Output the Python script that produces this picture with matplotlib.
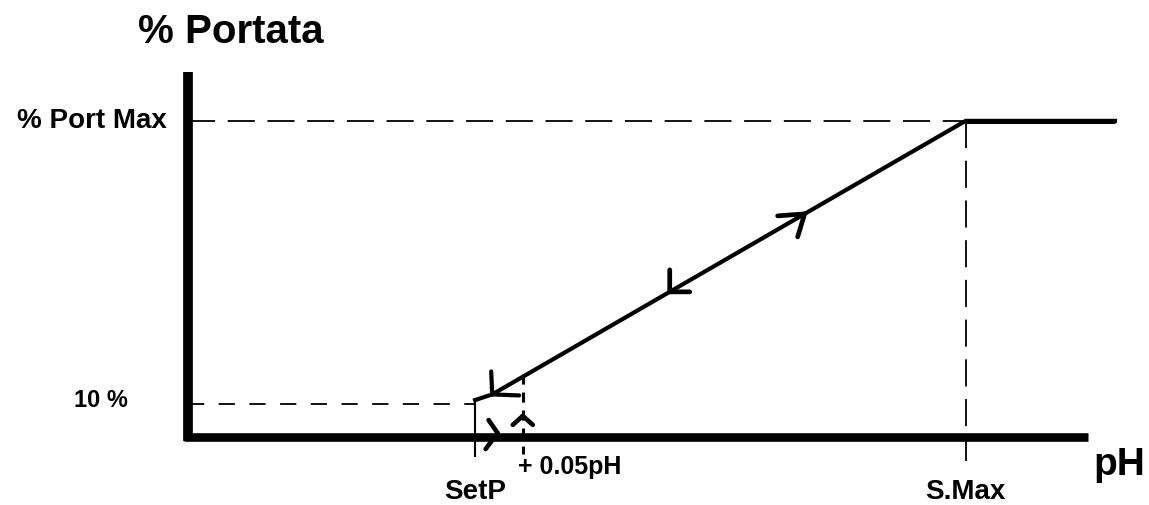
import matplotlib
matplotlib.use('Agg')
import matplotlib.pyplot as plt

plt.rcParams['font.family'] = ['Liberation Sans', 'DejaVu Sans']

# valori (asse x: pH schematico, asse y: % portata)
set_p = 3.19          # SetP
set_p_plus = 3.72     # SetP + 0.05 pH
s_max = 8.64          # S.Max
ph_axis_end = 10.0
ph_end = 10.3
port_min = 10         # 10 %
port_max = 95.8       # % Port Max
y_axis_top = 110.6

# curva portata / pH
knee_x = [set_p, 3.38]
knee_y = [11.2, 12.9]
curve_x = knee_x + [s_max, ph_end]
curve_y = knee_y + [port_max, port_max]

# posizione delle frecce lungo il tratto inclinato (frazione)
arrow_up_frac = 0.66
arrow_down_frac = 0.375

fig = plt.figure(figsize=(11.49, 5.06), dpi=100)
ax = fig.add_axes([0, 0, 1, 1])
ax.set_xlim(-188 / 90, (1149 - 188) / 90)
ax.set_ylim((438 - 506) / 3.3, 438 / 3.3)
ax.axis('off')

# assi spessi
ax.plot([0, 0], [-1.2, y_axis_top], color='black', lw=7, solid_capstyle='butt')
ax.plot([-0.05, ph_axis_end], [0, 0], color='black', lw=6.2, solid_capstyle='butt')

# linee guida tratteggiate
ax.plot([0, s_max], [port_max, port_max], color='black', lw=1.3, ls=(0, (15, 7)))
ax.plot([s_max, s_max], [port_max, -7.3], color='black', lw=1.3, ls=(0, (15, 7)))
ax.plot([0, set_p], [port_min, port_min], color='black', lw=1.3, ls=(0, (9, 8)))
ax.plot([set_p_plus, set_p_plus], [19.1, -5.2], color='black', lw=2.2, ls=(0, (3.3, 2.6)))

# tacca verticale SetP e curva
ax.plot([set_p, set_p], [-5.8, knee_y[0]], color='black', lw=1.5)
ax.plot(curve_x, curve_y, color='black', lw=3, solid_joinstyle='miter')
ax.plot([s_max, ph_end], [port_max, port_max], color='black', lw=3.6, solid_capstyle='butt')


def chevron(x, y, arms, lw=3):
    for dx, dy in arms:
        ax.annotate('', xy=(x, y), xytext=(dx * 0.72, dy * 0.72), textcoords='offset points',
                    arrowprops=dict(arrowstyle='-', lw=lw, color='black',
                                    shrinkA=0, shrinkB=0))


def along(frac):
    x = knee_x[1] + frac * (s_max - knee_x[1])
    y = knee_y[1] + frac * (port_max - knee_y[1])
    return x, y


# frecce
chevron(3.44, 1.2, [(-9, 13), (-12, -16)], lw=3.3)
chevron(set_p_plus, 6.4, [(-10, -9), (10, -9)], lw=3.3)
chevron(knee_x[1], knee_y[1], [(-1, 23), (27, -1)])
chevron(*along(arrow_down_frac), [(0, 22), (20, 0)], lw=3.4)
chevron(*along(arrow_up_frac), [(-27, -2), (-7, -23)], lw=3.4)

# testi
bold = dict(fontweight='bold', color='black', va='baseline')
ax.text(-0.556, 119.7, '% Portata', fontsize=29, ha='left', **bold)
ax.text(-0.233, 93.9, '% Port Max', fontsize=20, ha='right', **bold)
ax.text(-0.667, 9.4, '10 %', fontsize=17, ha='right', **bold)
ax.text(set_p, -18.6, 'SetP', fontsize=20, ha='center', **bold)
ax.text(3.667, -10.9, '+ 0.05pH', fontsize=18, ha='left', **bold)
ax.text(s_max, -18.4, 'S.Max', fontsize=20, ha='center', **bold)
ax.text(10.06, -11.2, 'pH', fontsize=28, ha='left', **bold)

fig.savefig('out.png', dpi=100, facecolor='white')
